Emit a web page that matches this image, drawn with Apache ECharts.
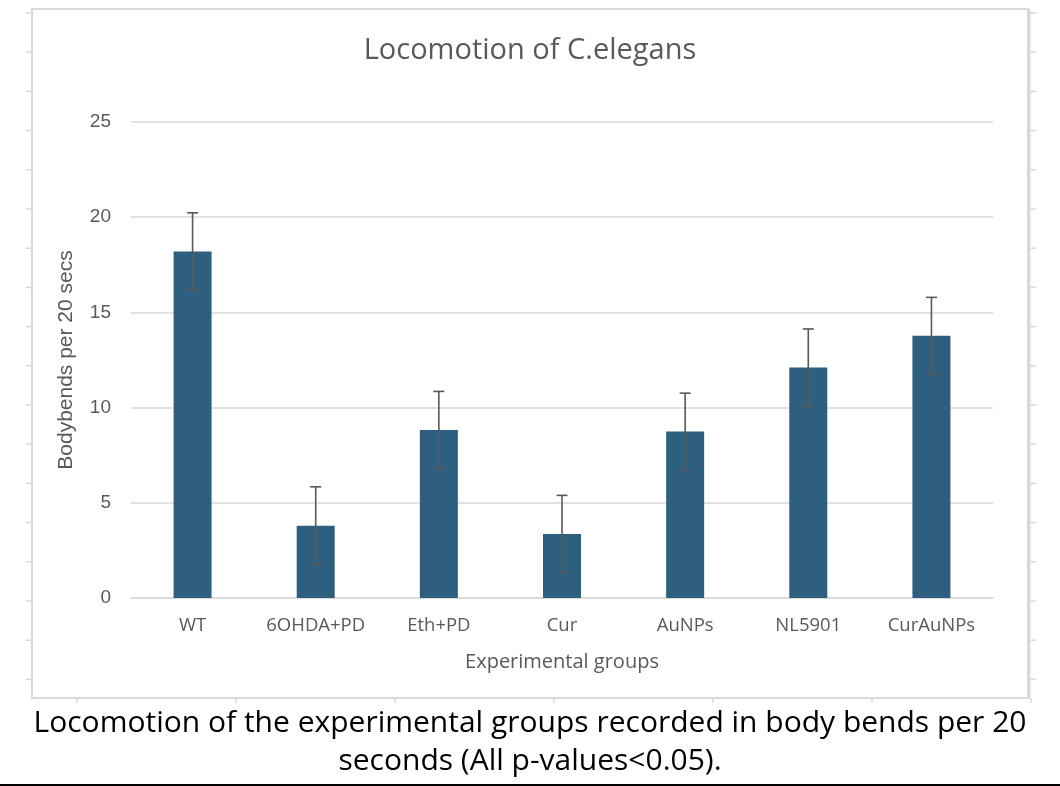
<!DOCTYPE html>
<html>
<head>
<meta charset="utf-8">
<script src="https://cdn.jsdelivr.net/npm/echarts@6/dist/echarts.min.js"></script>
<style>
html,body{margin:0;padding:0;background:#fff;}
#chart{width:1060px;height:786px;}
</style>
</head>
<body>
<div id="chart"></div>
<script>
const categories = ['WT', '6OHDA+PD', 'Eth+PD', 'Cur', 'AuNPs', 'NL5901', 'CurAuNPs'];
const means = [18.2, 3.8, 8.82, 3.36, 8.74, 12.1, 13.77];
const errors = [2.03, 2.04, 2.03, 2.03, 2.02, 2.03, 2.02];
const yTicks = [0, 5, 10, 15, 20, 25];
const titleText = 'Locomotion of C.elegans';
const yName = 'Bodybends per 20 secs';
const xName = 'Experimental groups';
const captionLines = ['Locomotion of the experimental groups recorded in body bends per 20', 'seconds (All p-values<0.05).'];

const chart = echarts.init(document.getElementById('chart'), null, {renderer: 'canvas'});

const errData = categories.map((c, i) => [i, means[i] - errors[i], means[i] + errors[i]]);

// decorative frame tick marks
const deco = [];
deco.push({type: 'rect', shape: {x: 32, y: 9, width: 996, height: 689}, style: {fill: 'none', stroke: '#D9D9D9', lineWidth: 2}, z: 0});
deco.push({type: 'line', shape: {x1: 1029, y1: 9, x2: 1029, y2: 698}, style: {stroke: '#D9D9D9', lineWidth: 3}, z: 0});
for (let k = 0; k < 18; k++) {
  const y = 13 + k * 39.2;
  deco.push({type: 'line', shape: {x1: 26, y1: y, x2: 32, y2: y}, style: {stroke: '#D9D9D9', lineWidth: 1.5}});
  deco.push({type: 'line', shape: {x1: 1030, y1: y, x2: 1036, y2: y}, style: {stroke: '#D9D9D9', lineWidth: 1.5}});
}
for (let k = 0; k < 7; k++) {
  const x = 77 + k * 159;
  deco.push({type: 'line', shape: {x1: x, y1: 698, x2: x, y2: 703}, style: {stroke: '#D9D9D9', lineWidth: 1.5}});
}
deco.push({type: 'line', shape: {x1: 0, y1: 785, x2: 1060, y2: 785}, style: {stroke: '#000', lineWidth: 2}});
captionLines.forEach((t, i) => {
  deco.push({type: 'text', x: 530, y: 723 + i * 38, style: {text: t, fill: '#000', font: '30px "Open Sans"', textAlign: 'center', textVerticalAlign: 'middle'}});
});

chart.setOption({
  animation: false,
  backgroundColor: '#fff',
  title: {
    text: titleText, left: 'center', top: 31,
    textStyle: {fontFamily: 'Open Sans', fontSize: 29, fontWeight: 'normal', color: '#595959'}
  },
  grid: {left: 131, right: 67, top: 122, bottom: 188, containLabel: false},
  xAxis: {
    type: 'category', data: categories,
    name: xName, nameLocation: 'middle', nameGap: 54,
    nameTextStyle: {fontFamily: 'Open Sans', fontSize: 20, color: '#595959'},
    axisLine: {show: true, lineStyle: {color: '#D9D9D9', width: 1.5}},
    axisTick: {show: false},
    axisLabel: {interval: 0, hideOverlap: false, fontFamily: 'Open Sans', fontSize: 18.5, color: '#595959', margin: 18}
  },
  yAxis: {
    type: 'value', min: 0, max: 25, interval: 5,
    name: yName, nameLocation: 'middle', nameGap: 54,
    nameTextStyle: {fontFamily: 'Liberation Sans', fontSize: 21, color: '#595959'},
    axisLine: {show: false}, axisTick: {show: false},
    axisLabel: {fontFamily: 'Liberation Sans', fontSize: 19, color: '#595959', margin: 20,
      formatter: v => yTicks.includes(v) ? String(v) : ''},
    splitLine: {lineStyle: {color: '#D9D9D9', width: 1.5}}
  },
  series: [
    {
      type: 'bar', data: means, barWidth: 38,
      itemStyle: {color: '#2E5F7F'}, z: 2
    },
    {
      type: 'custom', data: errData, z: 3,
      renderItem: function (params, api) {
        const x = api.value(0);
        const lo = api.coord([x, api.value(1)]);
        const hi = api.coord([x, api.value(2)]);
        const hw = 5.5;
        const st = {stroke: '#595959', lineWidth: 1.6};
        return {type: 'group', children: [
          {type: 'line', shape: {x1: hi[0], y1: hi[1], x2: lo[0], y2: lo[1]}, style: st},
          {type: 'line', shape: {x1: hi[0] - hw, y1: hi[1], x2: hi[0] + hw, y2: hi[1]}, style: st},
          {type: 'line', shape: {x1: lo[0] - hw, y1: lo[1], x2: lo[0] + hw, y2: lo[1]}, style: st}
        ]};
      }
    }
  ],
  graphic: deco
});
</script>
</body>
</html>
